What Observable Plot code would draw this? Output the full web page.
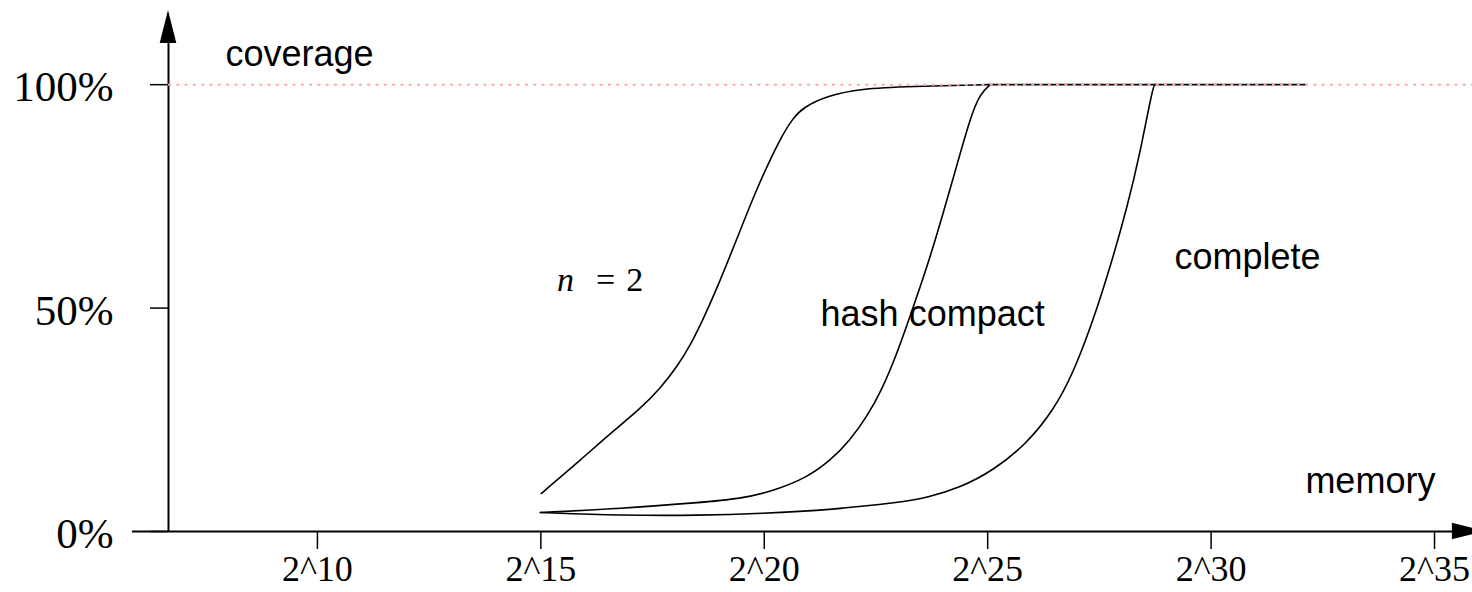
<!DOCTYPE html>
<html>
<head>
<meta charset="utf-8">
<script src="https://cdn.jsdelivr.net/npm/d3@7"></script>
<script src="https://cdn.jsdelivr.net/npm/@observablehq/plot@0.6"></script>
<style>
  html, body { margin: 0; padding: 0; background: #fff; }
  svg { display: block; }
</style>
</head>
<body>
<div id="chart"></div>
<script>
// x = exponent of memory (2^x), y = coverage in %
const xTicks = [10, 15, 20, 25, 30, 35];
const yTicks = [0, 50, 100];

const nTwoX = [15.01, 15.92, 16.55, 17.23, 17.67, 18.05, 18.34, 18.61, 18.95, 19.40, 19.84, 20.36, 20.65, 20.87, 21.41, 22.15, 23.27, 24.99];
const nTwoY = [8.5, 16.3, 21.9, 27.5, 32.0, 36.9, 41.6, 47.0, 54.6, 65.8, 77.0, 88.1, 92.6, 94.9, 97.5, 99.1, 99.6, 100];

const hashX = [14.99, 16.78, 18.57, 19.46, 20.21, 20.96, 21.48, 21.92, 22.30, 22.60, 22.98, 23.33, 23.71, 24.00, 24.32, 24.61, 24.83, 25.06];
const hashY = [4.25, 5.1, 6.5, 7.3, 9.1, 12.1, 15.9, 20.4, 25.8, 31.0, 40.0, 50.1, 61.3, 71.1, 82.3, 92.6, 98.0, 100];

const completeX = [14.99, 16.78, 18.57, 19.91, 21.54, 23.04, 23.65, 24.38, 25.12, 25.88, 26.47, 26.91, 27.36, 27.74, 28.12, 28.41, 28.70, 28.75];
const completeY = [4.25, 3.6, 3.6, 4.0, 4.9, 6.5, 7.6, 9.8, 13.6, 19.7, 27.1, 35.3, 47.2, 59.1, 72.5, 84.6, 99.8, 100];

const plateauX = [25.0, 32.13];
const plateauY = [100, 100];

const seriesNames = ["n=2", "hash compact", "complete", "plateau"];
const seriesX = [nTwoX, hashX, completeX, plateauX];
const seriesY = [nTwoY, hashY, completeY, plateauY];

const rows = seriesNames.flatMap((s, i) => seriesX[i].map((x, j) => ({series: s, x, y: seriesY[i][j]})));

// axis geometry (data units)
const xMin = 6.667, xMax = 35.85, yMax = 116.6;
const axisXStart = 5.86;
const yTickLen = 18 / 44.69;

const sansLabels = [
  {x: 7.94, y: 106.8, text: "coverage"},
  {x: 32.11, y: 11.2, text: "memory"},
  {x: 29.18, y: 61.3, text: "complete"},
  {x: 21.26, y: 48.6, text: "hash compact"}
];
const nLabelItalic = [{x: 15.55, y: 56.2, text: "n"}];
const nLabelRest = [{x: 16.45, y: 56.2, text: "="}, {x: 17.10, y: 56.2, text: "2"}];

const upArrow = [
  {y: 109.2, x1: xMin - 0.186, x2: xMin + 0.186},
  {y: yMax, x1: xMin, x2: xMin}
];
const rightArrow = [
  {x: 35.40, y1: -1.86, y2: 1.86},
  {x: 36.14, y1: 0, y2: 0}
];

const chart = Plot.plot({
  width: 1472,
  height: 592,
  marginLeft: 168,
  marginRight: 0,
  marginTop: 10,
  marginBottom: 61,
  style: {background: "#fff", color: "black", overflow: "visible"},
  x: {domain: [xMin, xMax]},
  y: {domain: [0, yMax], axis: null},
  marks: [
    Plot.axisX({ticks: xTicks, tickSize: 18, tickPadding: 6, tickFormat: d => "2^" + d,
      fontSize: 36, fontFamily: "Liberation Serif", label: null, strokeWidth: 1.5}),
    Plot.ruleY(yTicks, {y: d => d, x1: xMin - yTickLen, x2: xMin, stroke: "black", strokeWidth: 1.5}),
    Plot.text(yTicks, {x: xMin, y: d => d, text: d => d + "%", dx: -55, dy: 3, textAnchor: "end",
      fontSize: 43, fontFamily: "Liberation Serif", fill: "black"}),
    Plot.ruleY([0], {x1: axisXStart, x2: 35.6, stroke: "black", strokeWidth: 2}),
    Plot.ruleX([xMin], {y1: 0, y2: 110, stroke: "black", strokeWidth: 2}),
    Plot.areaX(upArrow, {y: "y", x1: "x1", x2: "x2", fill: "black"}),
    Plot.areaY(rightArrow, {x: "x", y1: "y1", y2: "y2", fill: "black"}),
    Plot.line(rows, {x: "x", y: "y", z: "series", stroke: "black", strokeWidth: 1.6, curve: "basis"}),
    Plot.ruleY([100], {x1: xMin, x2: xMax, stroke: "#ffaaaa", strokeWidth: 2, strokeDasharray: "3,5.3"}),
    Plot.text(sansLabels, {x: "x", y: "y", text: "text", textAnchor: "start", fontSize: 36,
      fontFamily: "Liberation Sans", fill: "black"}),
    Plot.text(nLabelItalic, {x: "x", y: "y", text: "text", textAnchor: "middle", fontSize: 34,
      fontStyle: "italic", fontFamily: "Liberation Serif", fill: "black"}),
    Plot.text(nLabelRest, {x: "x", y: "y", text: "text", textAnchor: "middle", fontSize: 34,
      fontFamily: "Liberation Serif", fill: "black"})
  ]
});
document.getElementById("chart").appendChild(chart);
</script>
</body>
</html>
